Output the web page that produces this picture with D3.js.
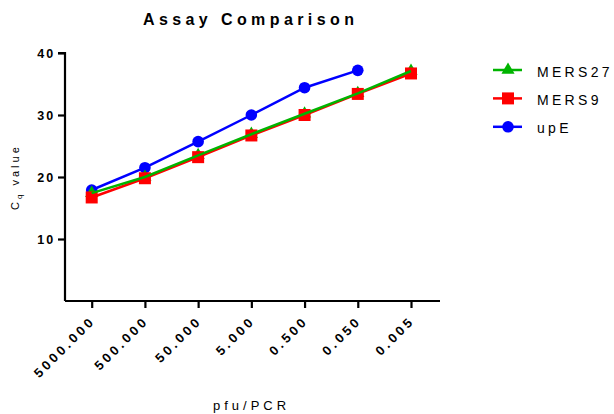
<!DOCTYPE html>
<html><head><meta charset="utf-8">
<script src="https://cdn.jsdelivr.net/npm/d3@7"></script>
<style>body{margin:0;background:#fff}svg{display:block;font-family:"Liberation Sans",Arial,sans-serif}</style>
</head><body>
<script>
const categories = ["5000.000","500.000","50.000","5.000","0.500","0.050","0.005"];
const mers27 = [17.4, 20.0, 23.5, 26.9, 30.2, 33.5, 37.1];
const mers9  = [16.7, 19.8, 23.2, 26.7, 30.0, 33.4, 36.7];
const upE    = [17.9, 21.5, 25.7, 30.0, 34.4, 37.2, null];
const yTicks = [10, 20, 30, 40];

const W = 614, H = 414;
const FONT = "Liberation Sans, Arial, sans-serif";
const svg = d3.select("body").append("svg").attr("width", W).attr("height", H);

const x = d3.scalePoint().domain(categories).range([91.7, 411]);
const y = d3.scaleLinear().domain([0, 40]).range([301, 53]);

// axes
const yAxis = svg.append("g").attr("transform","translate(65,0)")
  .call(d3.axisLeft(y).tickValues(yTicks).tickSize(7).tickPadding(4));
yAxis.select(".domain").attr("stroke","#000").attr("stroke-width",2.2)
  .attr("d", `M-7,${y(40)}H0V${y(0)}`);
yAxis.selectAll(".tick line").attr("stroke-width",2.2);
yAxis.selectAll(".tick text").attr("font-size",12.5).attr("font-weight","bold")
  .attr("letter-spacing","2.2px").attr("fill","#000").attr("font-family",FONT)
  .attr("x",-9.5).attr("dy","0.36em");

const xAxis = svg.append("g").attr("transform",`translate(0,${y(0)})`)
  .call(d3.axisBottom(x).tickSize(7).tickPadding(4));
xAxis.select(".domain").attr("stroke-width",2.2).attr("d","M65,0H440");
xAxis.selectAll(".tick line").attr("stroke-width",2.2);
xAxis.selectAll(".tick text").attr("font-size",13).attr("font-weight","bold")
  .attr("letter-spacing","3.3px").attr("fill","#000").attr("font-family",FONT)
  .attr("text-anchor","end").attr("dy",null).attr("y",0)
  .attr("transform","translate(4,20.5) rotate(-45)");

// title & labels
svg.append("text").attr("x",143).attr("y",24.5)
  .attr("font-size",16).attr("font-weight","bold").attr("letter-spacing","4.4px").text("Assay Comparison");
const yl = svg.append("text").attr("transform","translate(19,210) rotate(-90)")
  .attr("font-size",11).attr("letter-spacing","3px");
yl.append("tspan").text("C");
yl.append("tspan").attr("font-size",8).attr("dy",3).text("q");
yl.append("tspan").attr("dy",-3).text(" value");
svg.append("text").attr("x",213).attr("y",409.5)
  .attr("font-size",13).attr("letter-spacing","4px").text("pfu/PCR");

const green = "#00b400", red = "#ff0000", blue = "#0000ff";
const line = d3.line().defined(d => d != null).x((d,i)=>x(categories[i])).y(d=>y(d));
const pts = arr => arr.map((v,i)=>({v, c:categories[i]})).filter(d=>d.v!=null);
const LW = 2.5;

function drawLine(data,color){ svg.append("path").datum(data).attr("d",line).attr("fill","none").attr("stroke",color).attr("stroke-width",LW); }
function drawCircles(data,color){ svg.append("g").selectAll("circle").data(pts(data)).join("circle")
  .attr("cx",d=>x(d.c)).attr("cy",d=>y(d.v)).attr("r",5.8).attr("fill",color); }
function drawSquares(data,color){ svg.append("g").selectAll("rect").data(pts(data)).join("rect")
  .attr("x",d=>x(d.c)-6).attr("y",d=>y(d.v)-6).attr("width",12).attr("height",12).attr("fill",color); }
const tri = d3.symbol().type(d3.symbolTriangle).size(75);
function drawTriangles(data,color){ svg.append("g").selectAll("path").data(pts(data)).join("path")
  .attr("transform",d=>`translate(${x(d.c)},${y(d.v)})`).attr("d",tri).attr("fill",color); }

drawLine(upE, blue); drawCircles(upE, blue);
drawTriangles(mers27, green);
drawLine(mers9, red); drawSquares(mers9, red);
drawLine(mers27, green);

// legend
const legend = [{n:"MERS27",c:green,s:"tri"},{n:"MERS9",c:red,s:"sq"},{n:"upE",c:blue,s:"ci"}];
const lg = svg.append("g").selectAll("g").data(legend).join("g")
  .attr("transform",(d,i)=>`translate(0,${70+i*28.4})`);
lg.append("line").attr("x1",493).attr("x2",522).attr("stroke",d=>d.c).attr("stroke-width",LW);
lg.each(function(d){
  const g = d3.select(this);
  if(d.s==="tri") g.append("path").attr("transform","translate(508,0)").attr("d",tri).attr("fill",d.c);
  else if(d.s==="sq") g.append("rect").attr("x",502).attr("y",-6).attr("width",12).attr("height",12).attr("fill",d.c);
  else g.append("circle").attr("cx",508).attr("r",5.8).attr("fill",d.c);
});
lg.append("text").attr("x",537).attr("y",6.5).attr("font-size",14).attr("letter-spacing","3.3px").text(d=>d.n);
</script>
</body></html>
